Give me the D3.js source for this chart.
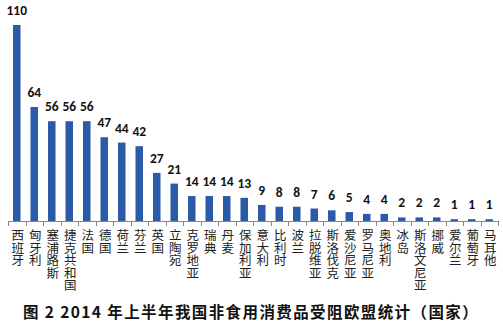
<!DOCTYPE html>
<html><head><meta charset="utf-8">
<script src="https://cdn.jsdelivr.net/npm/d3@7"></script>
<style>body{margin:0;background:#fff}svg{display:block}</style>
</head><body>
<script>
const categories = ["西班牙","匈牙利","塞浦路斯","捷克共和国","法国","德国","荷兰","芬兰","英国","立陶宛","克罗地亚","瑞典","丹麦","保加利亚","意大利","比利时","波兰","拉脱维亚","斯洛伐克","爱沙尼亚","罗马尼亚","奥地利","冰岛","斯洛文尼亚","挪威","爱尔兰","葡萄牙","马耳他"];
const values = [110,64,56,56,56,47,44,42,27,21,14,14,14,13,9,8,8,7,6,5,4,4,2,2,2,1,1,1];
const title = "图 2 2014 年上半年我国非食用消费品受阻欧盟统计（国家）";

const W = 503, H = 334;
const svg = d3.select("body").append("svg").attr("width", W).attr("height", H);
const x = d3.scaleBand().domain(categories).range([8, 498]).paddingInner(0.57).paddingOuter(0.285);
const y = d3.scaleLinear().domain([0, 110]).range([221, 25]);

svg.selectAll("rect.bar").data(values).enter().append("rect")
  .attr("x", (d,i) => x(categories[i]))
  .attr("y", d => y(d))
  .attr("width", x.bandwidth())
  .attr("height", d => y(0) - y(d))
  .attr("fill", "#2b5ba8");

// axis
const step = x.step();
svg.append("line").attr("x1", 8).attr("x2", 498).attr("y1", 221.5).attr("y2", 221.5)
  .attr("stroke", "#888").attr("stroke-width", 1);
const tickPos = d3.range(categories.length + 1).map(i => 8 + i * step);
svg.selectAll("line.tick").data(tickPos).enter().append("line")
  .attr("x1", d => Math.round(d) + 0.5).attr("x2", d => Math.round(d) + 0.5)
  .attr("y1", 221).attr("y2", 226).attr("stroke", "#888");

// value labels
svg.selectAll("text.val").data(values).enter().append("text")
  .attr("x", (d,i) => x(categories[i]) + x.bandwidth()/2)
  .attr("y", d => y(d) - 10)
  .attr("text-anchor", "middle")
  .attr("font-family", "Carlito, 'Liberation Sans', Arial, sans-serif")
  .attr("font-weight", "bold").attr("font-size", 13.5).attr("fill", "#111")
  .text(d => d);

// category labels vertical
svg.selectAll("text.cat").data(categories).enter().append("text")
  .attr("x", d => x(d) + x.bandwidth()/2 + 1)
  .attr("y", 229)
  .style("writing-mode", "vertical-rl")
  .style("text-orientation", "upright")
  .attr("font-family", "'Noto Sans CJK SC', sans-serif")
  .attr("font-size", 12.5).attr("fill", "#222")
  .text(d => d);

svg.append("text").attr("x", 251).attr("y", 318).attr("text-anchor", "middle")
  .attr("font-family", "'Noto Sans CJK SC', sans-serif").attr("font-weight", "bold")
  .attr("font-size", 15.5).attr("letter-spacing", 1.4).attr("fill", "#111").text(title);
</script>
</body></html>
